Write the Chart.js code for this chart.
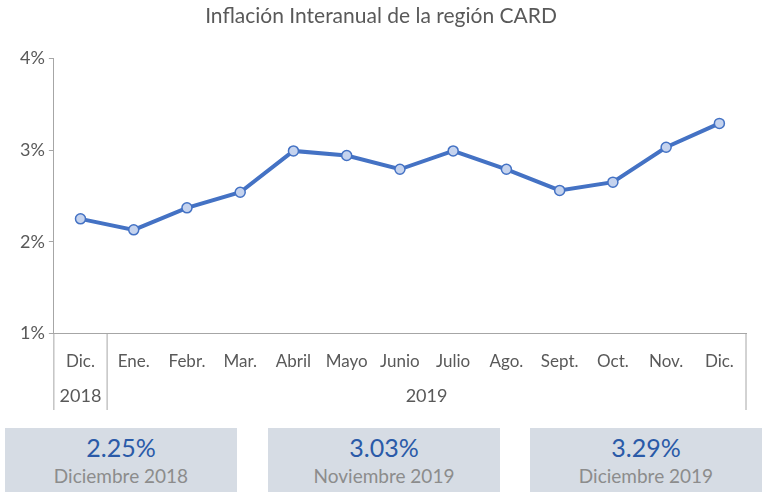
<!DOCTYPE html>
<html><head><meta charset="utf-8">
<script src="https://cdn.jsdelivr.net/npm/chart.js@4"></script>
<style>
body{margin:0;background:#fff;font-family:"Century Gothic",Lato,sans-serif;}
#wrap{position:relative;width:768px;height:420px;}
.box{position:absolute;top:428px;width:232px;height:64px;background:#d6dce4;text-align:center;}
.v{color:#2a5aa8;font-size:25px;margin-top:4px;}
.l{color:#8c8c8c;font-size:19px;margin-top:2px;}
</style></head><body>
<div id="wrap"><canvas id="c" width="768" height="420"></canvas></div>
<div class="box" style="left:5px"><div class="v">2.25%</div><div class="l">Diciembre 2018</div></div>
<div class="box" style="left:268px"><div class="v">3.03%</div><div class="l">Noviembre 2019</div></div>
<div class="box" style="left:530px"><div class="v">3.29%</div><div class="l">Diciembre 2019</div></div>
<script>
const months = ["Dic.","Ene.","Febr.","Mar.","Abril","Mayo","Junio","Julio","Ago.","Sept.","Oct.","Nov.","Dic."];
const years = ["2018","2019"];
const inflation = [2.25,2.13,2.37,2.54,2.99,2.94,2.79,2.99,2.79,2.56,2.65,3.03,3.29];
const yTicks = [1,2,3,4];

const grey = "#595959";
const yearRow = {
  id: "yearRow",
  afterDraw(chart) {
    const c = chart.ctx, x = chart.scales.x, a = chart.chartArea;
    const w = x.getPixelForValue(1) - x.getPixelForValue(0);
    const b0 = x.getPixelForValue(0) - w / 2;
    const b1 = x.getPixelForValue(0) + w / 2;
    const b2 = x.getPixelForValue(months.length - 1) + w / 2;
    c.save();
    c.strokeStyle = "#a6a6a6"; c.lineWidth = 1;
    c.beginPath();
    c.moveTo(b0, a.bottom); c.lineTo(b0, 410);
    c.moveTo(b1, a.bottom); c.lineTo(b1, 410);
    c.moveTo(b2, a.bottom); c.lineTo(b2, 410);
    c.stroke();
    c.fillStyle = grey; c.font = "18px Lato"; c.textAlign = "center"; c.textBaseline = "middle";
    c.fillText(years[0], (b0 + b1) / 2, 396);
    c.fillText(years[1], (b1 + b2) / 2, 396);
    c.restore();
  }
};

new Chart(document.getElementById("c"), {
  type: "line",
  data: { labels: months, datasets: [{
    data: inflation, borderColor: "#4472c4", borderWidth: 4,
    pointRadius: 5, pointBackgroundColor: "#c5d3ee", pointBorderColor: "#4472c4", pointBorderWidth: 1.5,
    tension: 0
  }]},
  options: {
    responsive: false, animation: false,
    layout: { padding: { top: 0, right: 22, bottom: 38, left: 16 } },
    plugins: {
      legend: { display: false }, tooltip: { enabled: false },
      title: { display: true, text: "Inflación Interanual de la región CARD", color: grey,
        font: { size: 21, family: "Lato", weight: "normal" }, padding: { top: 4, bottom: 29 },
        position: "top", align: "center", fullSize: true }
    },
    scales: {
      x: { offset: true, grid: { display: false }, border: { color: "#a6a6a6" },
        ticks: { color: grey, font: { size: 17, family: "Lato" }, maxRotation: 0, autoSkip: false, padding: 10 } },
      y: { min: 1, max: 4, afterBuildTicks: s => { s.ticks = yTicks.map(v => ({ value: v })); },
        grid: { drawOnChartArea: false, tickLength: 5, color: "#a6a6a6" }, border: { color: "#a6a6a6" },
        ticks: { color: grey, font: { size: 18, family: "Lato" }, callback: v => v + "%", padding: 4 } }
    }
  },
  plugins: [yearRow]
});
</script>
</body></html>
